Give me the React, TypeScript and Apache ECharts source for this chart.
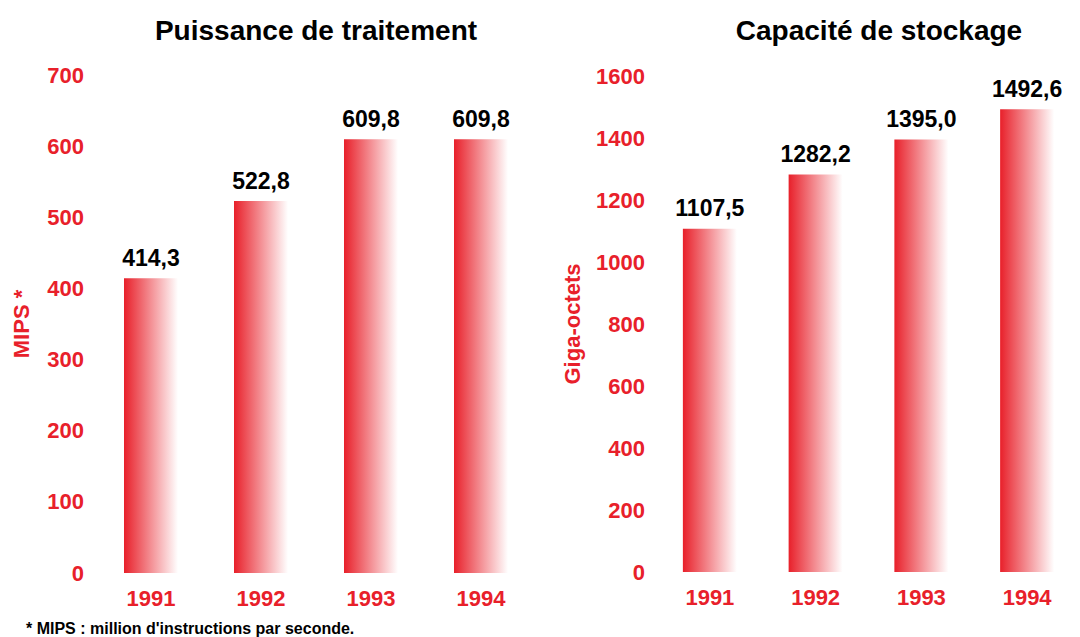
import React, { useEffect, useRef } from "react";
import * as echarts from "echarts";

const years = ["1991", "1992", "1993", "1994"];
const mips = [414.3, 522.8, 609.8, 609.8];
const storage = [1107.5, 1282.2, 1395.0, 1492.6];
const titleLeft = "Puissance de traitement";
const titleRight = "Capacité de stockage";
const nameLeft = "MIPS *";
const nameRight = "Giga-octets";
const footnote = "* MIPS : million d'instructions par seconde.";

const RED = "#e8202a";
const FONT = "'Liberation Sans', Arial, sans-serif";

const grad = () =>
  new echarts.graphic.LinearGradient(0, 0, 1, 0, [
    { offset: 0, color: RED },
    { offset: 1, color: "#ffffff" },
  ]);

export default function App() {
  const ref = useRef<HTMLDivElement>(null);
  useEffect(() => {
    if (!ref.current) return;
    const chart = echarts.init(ref.current, undefined, { renderer: "svg" });
    const yAxisCommon = {
      type: "value" as const,
      min: 0,
      axisLine: { show: false },
      axisTick: { show: false },
      splitLine: { show: false },
      axisLabel: {
        color: RED,
        fontWeight: "bold",
        fontSize: 22,
        fontFamily: FONT,
        margin: 12,
        formatter: (v: number) => String(v),
      },
      nameLocation: "middle" as const,
      nameRotate: 90,
      nameTextStyle: { color: RED, fontWeight: "bold", fontSize: 22, fontFamily: FONT },
    };
    const xAxisCommon = {
      type: "category" as const,
      data: years,
      axisLine: { show: false },
      axisTick: { show: false },
      axisLabel: { color: RED, fontWeight: "bold", fontSize: 22, fontFamily: FONT, margin: 14 },
    };
    const labelCommon = {
      show: true,
      position: "top" as const,
      distance: 9,
      color: "#000",
      fontWeight: "bold",
      fontSize: 23,
      fontFamily: FONT,
      formatter: (p: any) => Number(p.value).toFixed(1).replace(".", ","),
    };
    const titleStyle = { color: "#000", fontWeight: "bold", fontSize: 28, fontFamily: FONT };
    chart.setOption({
      animation: false,
      title: [
        { text: titleLeft, left: 311, top: 11, textAlign: "center", textStyle: titleStyle },
        { text: titleRight, left: 874, top: 11, textAlign: "center", textStyle: titleStyle },
      ],
      grid: [
        { left: 96, top: 75, width: 440, height: 498 },
        { left: 657, top: 76, width: 440, height: 496 },
      ],
      xAxis: [
        { ...xAxisCommon, gridIndex: 0 },
        { ...xAxisCommon, gridIndex: 1 },
      ],
      yAxis: [
        { ...yAxisCommon, gridIndex: 0, max: 700, interval: 100, name: nameLeft, nameGap: 64 },
        { ...yAxisCommon, gridIndex: 1, max: 1600, interval: 200, name: nameRight, nameGap: 74 },
      ],
      graphic: [
        {
          type: "text",
          left: 26,
          top: 620,
          style: { text: footnote, fill: "#000", font: `bold 16px ${FONT}` },
        },
      ],
      series: [
        {
          type: "bar",
          xAxisIndex: 0,
          yAxisIndex: 0,
          data: mips,
          barWidth: 54,
          itemStyle: { color: grad() },
          label: labelCommon,
        },
        {
          type: "bar",
          xAxisIndex: 1,
          yAxisIndex: 1,
          data: storage,
          barWidth: 54,
          itemStyle: { color: grad() },
          label: labelCommon,
        },
      ],
    });
    return () => chart.dispose();
  }, []);
  return (
    <div
      ref={ref}
      style={{ position: "fixed", left: 0, top: 0, width: 1080, height: 637, background: "#fff" }}
    />
  );
}
